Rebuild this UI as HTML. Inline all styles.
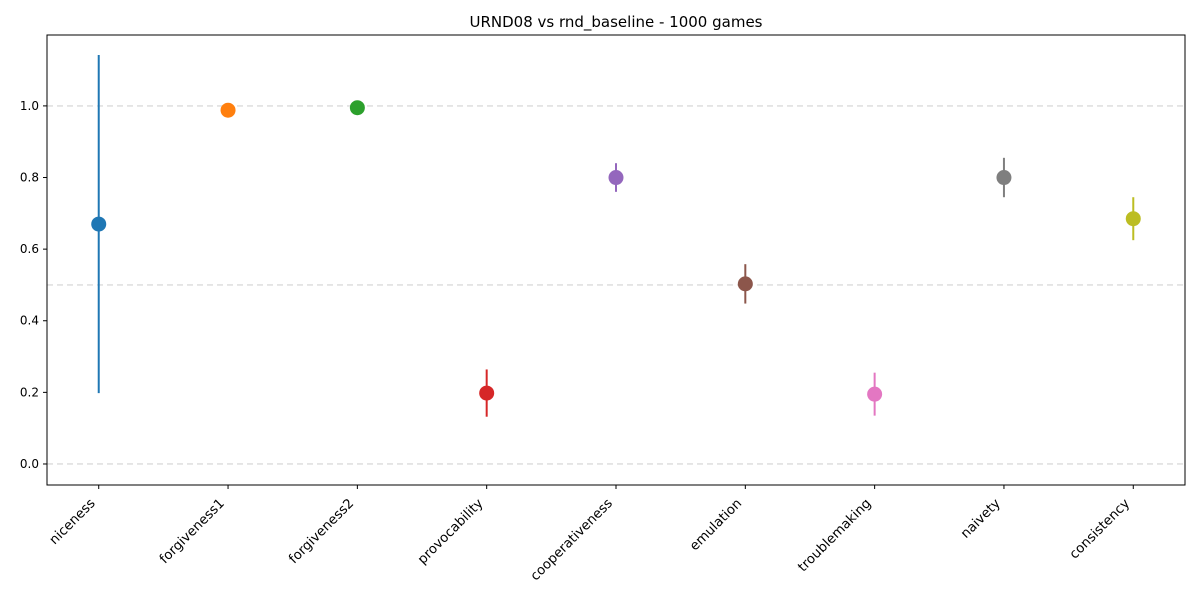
<!DOCTYPE html>
<html><head><meta charset="utf-8"><style>
body{margin:0;background:#fff;font-family:"Liberation Sans","DejaVu Sans",sans-serif}
svg text{font-family:"DejaVu Sans","Liberation Sans",sans-serif}
</style></head><body>
<svg id="chart" width="1200" height="600" xmlns="http://www.w3.org/2000/svg"></svg>
<script>
const categories=["niceness","forgiveness1","forgiveness2","provocability","cooperativeness","emulation","troublemaking","naivety","consistency"];
const means=[0.67,0.988,0.995,0.198,0.80,0.503,0.195,0.80,0.685];
const errors=[0.472,0,0,0.066,0.04,0.055,0.06,0.055,0.06];
const colors=["#1f77b4","#ff7f0e","#2ca02c","#d62728","#9467bd","#8c564b","#e377c2","#7f7f7f","#bcbd22"];
const yTicks=[0,0.2,0.4,0.6,0.8,1.0];
const refLines=[0,0.5,1.0];
const L=47,R=1185,T=35,B=485,yMin=-0.0587,yMax=1.198;
const NS="http://www.w3.org/2000/svg";
const svg=document.getElementById('chart');
const xs=i=>L+(i+0.4)/(categories.length-1+0.8)*(R-L);
const ys=v=>B-(v-yMin)/(yMax-yMin)*(B-T);
function mk(t,a,p){const e=document.createElementNS(NS,t);for(const k in a)e.setAttribute(k,a[k]);(p||svg).appendChild(e);return e;}
let e=mk('text',{x:616,y:27,'text-anchor':'middle','font-size':15,fill:'#000'});e.textContent="URND08 vs rnd_baseline - 1000 games";


refLines.forEach(v=>{const l=mk('line',{x1:L,x2:R,y1:ys(v),y2:ys(v),stroke:'#e0e0e0','stroke-width':1.6,'stroke-dasharray':'6,4'});

});
yTicks.forEach(v=>{const y=ys(v);mk('line',{x1:L-4,x2:L,y1:y,y2:y,stroke:'#000'});
const t=mk('text',{x:L-8,y:y+4,'text-anchor':'end','font-size':12});t.textContent=v.toFixed(1);

});
categories.forEach((c,i)=>{const x=xs(i);mk('line',{x1:x,x2:x,y1:B,y2:B+4,stroke:'#000'});
const t=mk('text',{x:0,y:0,'text-anchor':'end','font-size':13.3,transform:`translate(${x-3},${B+19}) rotate(-45)`});t.textContent=c;


const g=mk('g',{});


if(errors[i]>0)mk('line',{x1:x,x2:x,y1:ys(means[i]-errors[i]),y2:ys(means[i]+errors[i]),stroke:colors[i],'stroke-width':2},g);
mk('circle',{cx:x,cy:ys(means[i]),r:7.5,fill:colors[i]},g);});
const fr=mk('rect',{x:L,y:T,width:R-L,height:B-T,fill:'none',stroke:'#000','stroke-width':1});


</script>
</body></html>
